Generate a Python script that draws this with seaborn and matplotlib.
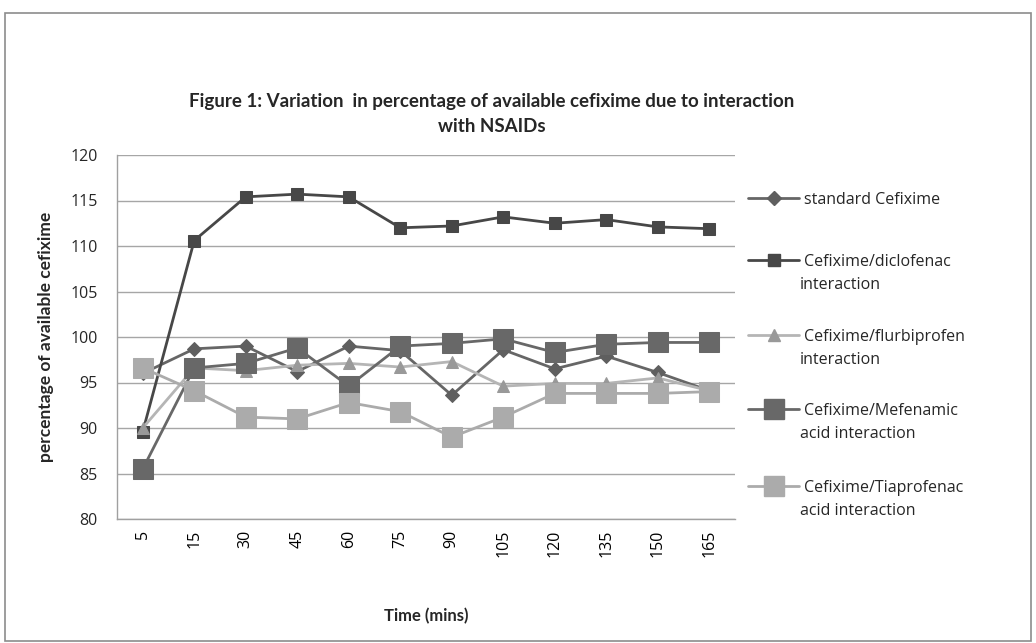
import matplotlib
matplotlib.use("Agg")
import matplotlib.pyplot as plt
import seaborn as sns
from matplotlib.lines import Line2D
from matplotlib.patches import Rectangle
from matplotlib.ticker import FixedLocator

# ---- data -------------------------------------------------------------
times = ["5", "15", "30", "45", "60", "75", "90", "105", "120", "135", "150", "165"]
standard = [96.0, 98.7, 99.0, 96.2, 99.0, 98.5, 93.6, 98.6, 96.5, 97.9, 96.1, 94.1]
diclofenac = [89.6, 110.6, 115.4, 115.7, 115.4, 112.0, 112.2, 113.2, 112.5, 112.9, 112.1, 111.9]
flurbiprofen = [90.0, 96.6, 96.3, 96.9, 97.1, 96.7, 97.3, 94.6, 94.9, 94.9, 95.5, 94.1]
mefenamic = [85.5, 96.6, 97.1, 98.8, 94.6, 99.0, 99.3, 99.8, 98.3, 99.2, 99.4, 99.4]
tiaprofenac = [96.6, 94.1, 91.2, 91.0, 92.8, 91.8, 89.0, 91.2, 93.8, 93.8, 93.8, 94.0]

label_first = ["standard Cefixime", "Cefixime/diclofenac", "Cefixime/flurbiprofen",
               "Cefixime/Mefenamic", "Cefixime/Tiaprofenac"]
label_second = ["", "interaction", "interaction", "acid interaction", "acid interaction"]

title = "Figure 1: Variation  in percentage of available cefixime due to interaction\nwith NSAIDs"
xlabel = "Time (mins)"
ylabel = "percentage of available cefixime"
yticks = [80, 85, 90, 95, 100, 105, 110, 115, 120]

# ---- styles -----------------------------------------------------------
series = [standard, diclofenac, flurbiprofen, mefenamic, tiaprofenac]
styles = [
    dict(color="#666666", marker="D", markersize=7, markerfacecolor="#5f5f5f", markeredgecolor="#5f5f5f"),
    dict(color="#474747", marker="s", markersize=8, markerfacecolor="#474747", markeredgecolor="#474747"),
    dict(color="#b5b5b5", marker="^", markersize=9, markerfacecolor="#999999", markeredgecolor="#999999"),
    dict(color="#686868", marker="s", markersize=15, markerfacecolor="#686868", markeredgecolor="#686868"),
    dict(color="#ababab", marker="s", markersize=15, markerfacecolor="#ababab", markeredgecolor="#ababab"),
]

sns.set_style("white")
plt.rcParams["font.family"] = ["Open Sans", "DejaVu Sans"]
bold_family = ["Lato", "DejaVu Sans"]

fig = plt.figure(figsize=(10.36, 6.43), dpi=100)
ax = fig.add_axes([117 / 1036, 1 - 519 / 643, (735 - 117) / 1036, (519 - 155) / 643])

for vals, st in zip(series, styles):
    sns.lineplot(x=times, y=vals, ax=ax, sort=False, linewidth=2.0, legend=False, **st)

ax.set_ylim(80, 120)
ax.set_xlim(-0.5, len(times) - 0.5)
ax.yaxis.set_major_locator(FixedLocator(yticks))
ax.set_xticks(range(len(times)))
ax.set_xticklabels(times, rotation=90)
ax.xaxis.set_minor_locator(FixedLocator([i - 0.5 for i in range(len(times) + 1)]))
ax.tick_params(axis="x", which="major", length=0, pad=8, labelsize=11.5, colors="black")
ax.tick_params(axis="x", which="minor", length=5, color="#a0a0a0", direction="out")
ax.tick_params(axis="y", which="major", length=5, color="#a0a0a0", labelsize=11.5, pad=9, direction="out")
ax.grid(axis="y", color="#a6a6a6", linewidth=1)
ax.set_axisbelow(True)
for s in ["top", "right"]:
    ax.spines[s].set_visible(False)
for s in ["left", "bottom"]:
    ax.spines[s].set_color("#a0a0a0")
    ax.spines[s].set_linewidth(1)

ax.set_xlabel(xlabel, fontsize=12, fontweight="bold", labelpad=36, family=bold_family)
ax.set_ylabel(ylabel, fontsize=12.5, fontweight="bold", labelpad=12, family=bold_family)

fig.text(492 / 1036, 1 - 114 / 643, title, ha="center", va="center", fontsize=13.5,
         fontweight="bold", linespacing=1.55, family=bold_family)

# legend: one entry per block, handle aligned with first line
rows = [200, 262, 337, 411, 488]
for st, l1, l2, yrow in zip(styles, label_first, label_second, rows):
    h = Line2D([], [], linewidth=2.0, **st)
    fig.legend(handles=[h], labels=[l1], loc="center left",
               bbox_to_anchor=(748 / 1036, 1 - yrow / 643), frameon=False,
               borderpad=0, borderaxespad=0, handlelength=3.2, handletextpad=0.3,
               fontsize=11.5)
    if l2:
        fig.text(800 / 1036, 1 - (yrow + 23) / 643, l2, ha="left", va="center", fontsize=11.5)

fig.patches.append(Rectangle((5 / 1036, 2 / 643), 1026 / 1036, (643 - 15) / 643,
                             transform=fig.transFigure, fill=False,
                             edgecolor="#8c8c8c", linewidth=1.2))

fig.savefig("out.png", dpi=100)
